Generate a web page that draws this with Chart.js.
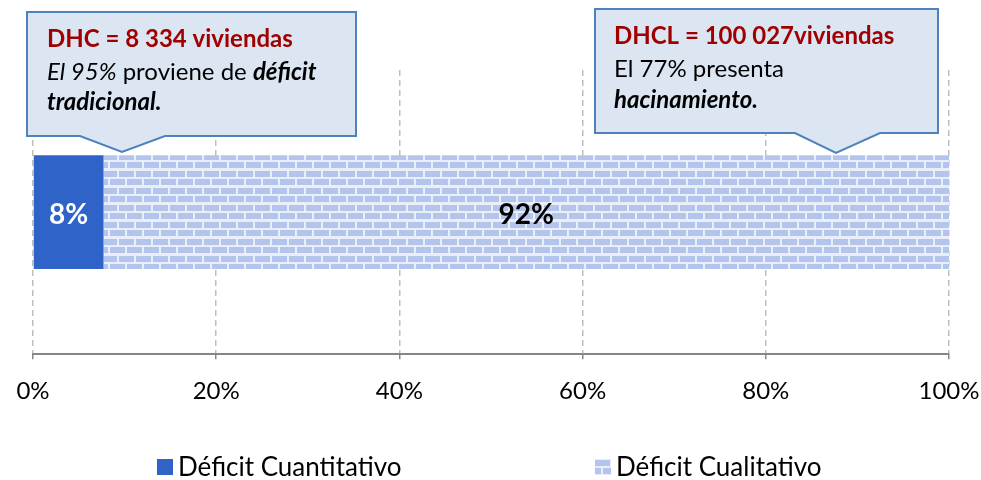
<!DOCTYPE html>
<html>
<head>
<meta charset="utf-8">
<script src="https://cdn.jsdelivr.net/npm/chart.js@4.4.0/dist/chart.umd.min.js"></script>
<style>
  html, body { margin: 0; padding: 0; background: #fff; }
</style>
</head>
<body>
<canvas id="chart" width="981" height="480"></canvas>
<script>
// data
const categories = ["Déficit habitacional"];
const seriesNames = ["Déficit Cuantitativo", "Déficit Cualitativo"];
const cuantitativo = [7.7];
const cualitativo = [92.3];
const valueLabels = ["8%", "92%"];
const tickStep = 20;

const FONT = "Lato, 'Open Sans', sans-serif";
const DARK_BLUE = "#3063c8";
const BRICK = "#b3c5ec";
const MORTAR = "#e9eef8";

// brick fill for the qualitative part
function brickPattern(ctx) {
    const tile = document.createElement("canvas");
    tile.width = 17;
    tile.height = 17;
    const t = tile.getContext("2d");
    t.fillStyle = MORTAR;
    t.fillRect(0, 0, 17, 17);
    t.fillStyle = BRICK;
    t.fillRect(0, 1, 15, 6);
    t.fillRect(8, 9, 15, 6);
    t.fillRect(-9, 9, 15, 6);
    return ctx.createPattern(tile, "repeat");
}

const canvas = document.getElementById("chart");
const ctx = canvas.getContext("2d");
const pattern = brickPattern(ctx);

// callout boxes: text runs per line
const callouts = [
    {
        box: [27, 12, 356, 136], base: [80, 165], tip: [122, 152],
        x: 47, lines: [
            { y: 47, runs: [["bold", "DHC = 8 334 viviendas", "#a00000"]] },
            { y: 80, runs: [["italic", "El 95%"], ["", " proviene de "], ["italic bold", "déficit"]] },
            { y: 110, runs: [["italic bold", "tradicional."]] },
        ],
    },
    {
        box: [595, 9, 938, 133], base: [795, 880], tip: [836, 153],
        x: 614, lines: [
            { y: 44, runs: [["bold", "DHCL = 100 027viviendas", "#a00000"]] },
            { y: 77, runs: [["", "El 77% presenta"]] },
            { y: 108, runs: [["italic bold", "hacinamiento."]] },
        ],
    },
];

const overlay = {
    id: "overlay",
    afterDatasetsDraw(chart) {
        const c = chart.ctx;
        // value labels in the middle of each segment
        c.save();
        c.font = "bold 28px " + FONT;
        c.textAlign = "center";
        c.textBaseline = "middle";
        chart.data.datasets.forEach((ds, i) => {
            const bar = chart.getDatasetMeta(i).data[0];
            c.fillStyle = i === 0 ? "#ffffff" : "#000000";
            c.fillText(valueLabels[i], (bar.x + bar.base) / 2, bar.y + 3);
        });
        c.restore();
    },
    afterDraw(chart) {
        const c = chart.ctx;
        c.save();
        callouts.forEach((co) => {
            const [l, t, r, b] = co.box;
            c.beginPath();
            c.moveTo(l, t);
            c.lineTo(r, t);
            c.lineTo(r, b);
            c.lineTo(co.base[1], b);
            c.lineTo(co.tip[0], co.tip[1]);
            c.lineTo(co.base[0], b);
            c.lineTo(l, b);
            c.closePath();
            c.fillStyle = "#dce6f2";
            c.fill();
            c.lineWidth = 2;
            c.strokeStyle = "#4f81bd";
            c.stroke();

            c.textBaseline = "alphabetic";
            c.textAlign = "left";
            co.lines.forEach((line) => {
                let x = co.x;
                line.runs.forEach(([style, text, color]) => {
                    c.font = (style ? style + " " : "") + "24px " + FONT;
                    c.fillStyle = color || "#000000";
                    c.fillText(text, x, line.y);
                    x += c.measureText(text).width;
                });
            });
        });

        // legend
        c.font = "26px " + FONT;
        c.textBaseline = "middle";
        const items = [[157, DARK_BLUE], [595, pattern]];
        items.forEach(([x, fill], i) => {
            c.fillStyle = fill;
            c.fillRect(x, 459, 16, 16);
            c.fillStyle = "#000000";
            c.fillText(seriesNames[i], x + 21, 468);
        });
        c.restore();
    },
};

new Chart(ctx, {
    type: "bar",
    data: {
        labels: categories,
        datasets: [
            {
                label: seriesNames[0],
                data: cuantitativo,
                backgroundColor: DARK_BLUE,
                barPercentage: 0.4,
                categoryPercentage: 1,
            },
            {
                label: seriesNames[1],
                data: cualitativo,
                backgroundColor: pattern,
                barPercentage: 0.4,
                categoryPercentage: 1,
            },
        ],
    },
    options: {
        indexAxis: "y",
        responsive: false,
        animation: false,
        layout: { padding: { top: 70, left: 33, right: 32, bottom: 56 } },
        plugins: {
            legend: { display: false },
            tooltip: { enabled: false },
        },
        scales: {
            x: {
                stacked: true,
                min: 0,
                max: 100,
                afterFit: (scale) => {
                    // labels may hang over the edges, keep the plot width fixed
                    scale.paddingLeft = 0;
                    scale.paddingRight = 0;
                },
                ticks: {
                    stepSize: tickStep,
                    callback: (v) => v + "%",
                    color: "#000000",
                    padding: 18,
                    font: { family: FONT, size: 24 },
                },
                grid: {
                    color: "#bfbfbf",
                    lineWidth: 1.5,
                    tickLength: 5,
                    tickColor: "#868686",
                    tickBorderDash: [],
                },
                border: { display: true, color: "#868686", width: 2, dash: [6, 4] },
            },
            y: {
                stacked: true,
                display: false,
            },
        },
    },
    plugins: [overlay],
});
</script>
</body>
</html>
